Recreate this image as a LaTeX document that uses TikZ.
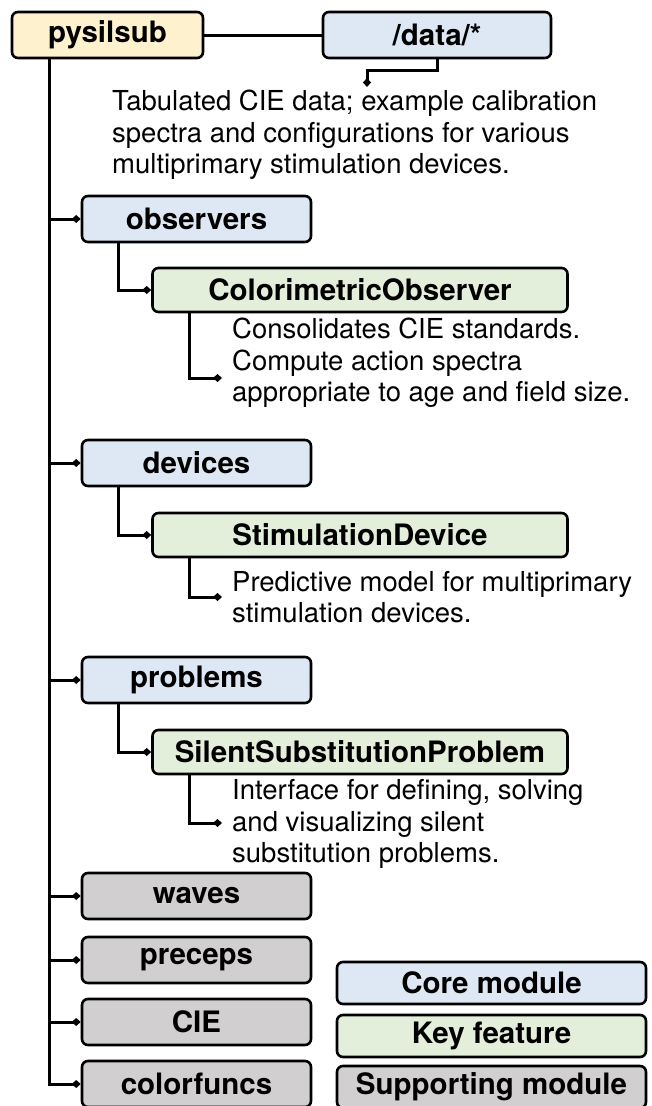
\documentclass[tikz,border=0pt]{standalone}
\usepackage{fontspec}
\setmainfont{TeX Gyre Heros}
\usetikzlibrary{arrows.meta}
\definecolor{rootfill}{HTML}{FDF1CE}
\definecolor{corefill}{HTML}{DEE8F4}
\definecolor{featfill}{HTML}{E3EFDB}
\definecolor{suppfill}{HTML}{D1CFCF}
\begin{document}
\begin{tikzpicture}[x=1pt, y=-1pt,
        box/.style={draw, line width=2.6pt, rounded corners=6pt, inner sep=0pt, minimum height=46pt,
            font=\fontsize{29.5}{34}\selectfont\bfseries},
        rootbox/.style={box, fill=rootfill, minimum width=191pt},
        corebox/.style={box, fill=corefill, minimum width=229pt},
        suppbox/.style={box, fill=suppfill, minimum width=229pt},
        featbox/.style={box, fill=featfill, minimum width=415pt, minimum height=44pt},
        keybox/.style={box, minimum width=309pt, minimum height=42pt},
        desc/.style={anchor=west, align=left, inner sep=0pt, font=\fontsize{27.5}{31.5}\selectfont},
        link/.style={line width=3pt},
        tip/.style={link, -{Diamond[length=9pt, width=8pt]}}]
        \useasboundingbox (0,0) rectangle (651,1106);

        \node[rootbox] (root) at (107.5,35) {pysilsub};
        \node[corebox, minimum width=228pt] (data) at (437,35) {/data/*};
        \node[desc] (datadesc) at (112,135) {Tabulated CIE data; example calibration\\spectra and configurations for various\\multiprimary stimulation devices.};

        \node[corebox] (obs) at (196.5,219) {observers};
        \node[featbox] (colobs) at (360,290) {ColorimetricObserver};
        \node[desc] (coldesc) at (232,363) {Consolidates CIE standards.\\Compute action spectra\\appropriate to age and field size.};

        \node[corebox] (dev) at (196.5,463) {devices};
        \node[featbox] (stimdev) at (360,535) {StimulationDevice};
        \node[desc] (stimdesc) at (232,597) {Predictive model for multiprimary\\stimulation devices.};

        \node[corebox] (prob) at (196.5,680) {problems};
        \node[featbox] (ssp) at (360,752) {SilentSubstitutionProblem};
        \node[desc] (sspdesc) at (232,824) {Interface for defining, solving\\and visualizing silent\\substitution problems.};

        \node[suppbox] (waves) at (196.5,896) {waves};
        \node[suppbox] (preceps) at (196.5,960) {preceps};
        \node[suppbox] (cie) at (196.5,1022) {CIE};
        \node[suppbox] (cfuncs) at (196.5,1084) {colorfuncs};

        \node[keybox, fill=corefill] (keycore) at (491.5,983) {Core module};
        \node[keybox, fill=featfill] (keyfeat) at (491.5,1036) {Key feature};
        \node[keybox, fill=suppfill] (keysupp) at (491.5,1087) {Supporting module};

        \coordinate (trunk) at ([xshift=39pt]root.south west);
        \coordinate (datatip) at (367,87);
        \coordinate (coltip) at (222,378);
        \coordinate (stimtip) at (222,597);
        \coordinate (ssptip) at (222,823);

        \draw[link] (root) -- (data);
        \draw[tip] (data.south) -- ++(0,11) -| (datatip);
        \foreach \n in {obs,dev,prob,waves,preceps,cie,cfuncs}
            \draw[tip] (trunk) |- (\n.west);
        \draw[tip] ([xshift=38pt]obs.south west) |- (colobs.west);
        \draw[tip] ([xshift=38pt]dev.south west) |- (stimdev.west);
        \draw[tip] ([xshift=38pt]prob.south west) |- (ssp.west);
        \draw[tip] ([xshift=38pt]colobs.south west) |- (coltip);
        \draw[tip] ([xshift=38pt]stimdev.south west) |- (stimtip);
        \draw[tip] ([xshift=38pt]ssp.south west) |- (ssptip);
    \end{tikzpicture}
\end{document}
